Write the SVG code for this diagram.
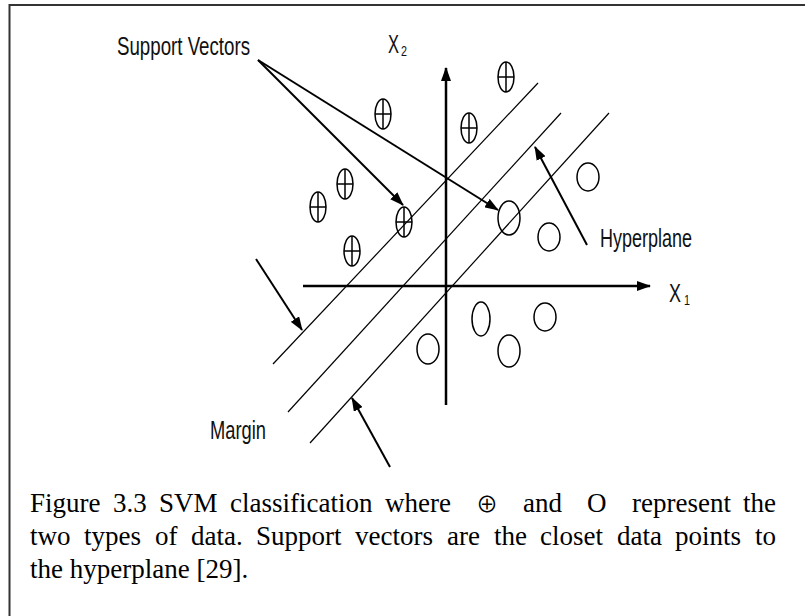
<svg xmlns="http://www.w3.org/2000/svg" width="805" height="616" viewBox="0 0 805 616">
  <style>
    .lbl { font-family: 'Liberation Sans Narrow', 'Liberation Sans', 'DejaVu Sans Condensed', sans-serif; font-size: 25px; fill: #111; }
    .sub { font-family: 'Liberation Sans Narrow', 'Liberation Sans', sans-serif; font-size: 15px; fill: #111; }
    .cap { font-family: 'Liberation Serif', 'Times New Roman', 'DejaVu Serif', serif; font-size: 27px; fill: #000; }
    .sym { font-family: 'Noto Sans CJK JP', 'Noto Sans CJK SC', 'DejaVu Serif', sans-serif; font-size: 22px; }
    .pt { fill: none; stroke: #000; stroke-width: 1.5; }
    .sep { stroke: #000; stroke-width: 1.2; fill: none; }
    .axis { stroke: #000; stroke-width: 2.5; fill: none; }
    .ptr { stroke: #000; stroke-width: 2; fill: none; }
  </style>
  <defs>
    <marker id="head" viewBox="0 0 14 10" refX="13" refY="5" markerWidth="14" markerHeight="10" markerUnits="userSpaceOnUse" orient="auto">
      <path d="M0,0 L14,5 L0,10 z" fill="#000"/>
    </marker>
    <g id="plus">
      <ellipse cx="0" cy="0" rx="8" ry="15" class="pt"/>
      <line x1="0" y1="-15" x2="0" y2="15" class="pt"/>
      <line x1="-8" y1="0" x2="8" y2="0" class="pt"/>
    </g>
  </defs>

  <rect x="0" y="0" width="805" height="616" fill="#fff"/>
  <!-- frame (open on right and bottom) -->
  <path d="M9.5,640 V5 H820" fill="none" stroke="#333" stroke-width="2"/>

  <!-- axes, margins, hyperplane and pointers -->
  <g id="connectors">
    <line class="axis" x1="303" y1="286" x2="650" y2="286" marker-end="url(#head)"/>
    <line class="axis" x1="446" y1="405" x2="446" y2="68" marker-end="url(#head)"/>
    <line class="sep" x1="273" y1="364" x2="538" y2="83"/>
    <line class="sep" x1="288" y1="412" x2="561" y2="113"/>
    <line class="sep" x1="310" y1="443" x2="609" y2="113"/>
    <line class="ptr" x1="258" y1="60" x2="403" y2="205" marker-end="url(#head)"/>
    <line class="ptr" x1="258" y1="60" x2="498" y2="210" stroke-width="2.5" marker-end="url(#head)"/>
    <line class="ptr" x1="587" y1="245" x2="535" y2="147" marker-end="url(#head)"/>
    <line class="ptr" x1="256" y1="259" x2="302" y2="330" marker-end="url(#head)"/>
    <line class="ptr" x1="390" y1="467" x2="352" y2="398" marker-end="url(#head)"/>
  </g>

  <!-- class ⊕ points -->
  <g id="plus-points">
    <use href="#plus" x="506" y="77"/>
    <use href="#plus" x="469" y="128"/>
    <use href="#plus" x="383" y="114"/>
    <use href="#plus" x="345" y="184"/>
    <use href="#plus" x="318" y="207"/>
    <use href="#plus" x="352" y="251"/>
    <use href="#plus" x="404" y="222"/>
  </g>

  <!-- class O points -->
  <g id="circle-points">
    <ellipse class="pt" cx="509" cy="218" rx="11" ry="17"/>
    <ellipse class="pt" cx="588" cy="177" rx="11" ry="14"/>
    <ellipse class="pt" cx="549" cy="237" rx="11" ry="14"/>
    <ellipse class="pt" cx="481" cy="319" rx="9" ry="17"/>
    <ellipse class="pt" cx="545" cy="317" rx="11" ry="14"/>
    <ellipse class="pt" cx="428" cy="349" rx="11" ry="15"/>
    <ellipse class="pt" cx="509" cy="351" rx="11" ry="16"/>
  </g>

  <!-- labels -->
  <g id="label-support">
    <text class="lbl" x="117" y="55" textLength="133" lengthAdjust="spacingAndGlyphs">Support  Vectors</text>
  </g>
  <g id="label-x2">
    <text class="lbl" x="388" y="53" textLength="11" lengthAdjust="spacingAndGlyphs">X</text>
    <text class="sub" x="401" y="56" textLength="6" lengthAdjust="spacingAndGlyphs">2</text>
  </g>
  <g id="label-x1">
    <text class="lbl" x="669" y="302" textLength="12" lengthAdjust="spacingAndGlyphs">X</text>
    <text class="sub" x="684" y="305" textLength="6" lengthAdjust="spacingAndGlyphs">1</text>
  </g>
  <g id="label-hyperplane">
    <text class="lbl" x="600" y="247" textLength="92" lengthAdjust="spacingAndGlyphs">Hyperplane</text>
  </g>
  <g id="label-margin">
    <text class="lbl" x="210" y="439" textLength="56" lengthAdjust="spacingAndGlyphs">Margin</text>
  </g>

  <!-- caption, justified word by word -->
  <g id="caption">
    <text class="cap" y="512"><tspan x="30">Figure</tspan><tspan x="113">3.3</tspan><tspan x="159">SVM</tspan><tspan x="230">classification</tspan><tspan x="385">where</tspan><tspan x="476" class="sym">⊕</tspan><tspan x="523">and</tspan><tspan x="587">O</tspan><tspan x="632">represent</tspan><tspan x="743">the</tspan></text>
    <text class="cap" y="545"><tspan x="30">two</tspan><tspan x="84">types</tspan><tspan x="155">of</tspan><tspan x="191">data.</tspan><tspan x="256">Support</tspan><tspan x="355">vectors</tspan><tspan x="447">are</tspan><tspan x="494">the</tspan><tspan x="540">closet</tspan><tspan x="617">data</tspan><tspan x="675">points</tspan><tspan x="755">to</tspan></text>
    <text class="cap" x="30" y="578">the hyperplane [29].</text>
  </g>
</svg>
